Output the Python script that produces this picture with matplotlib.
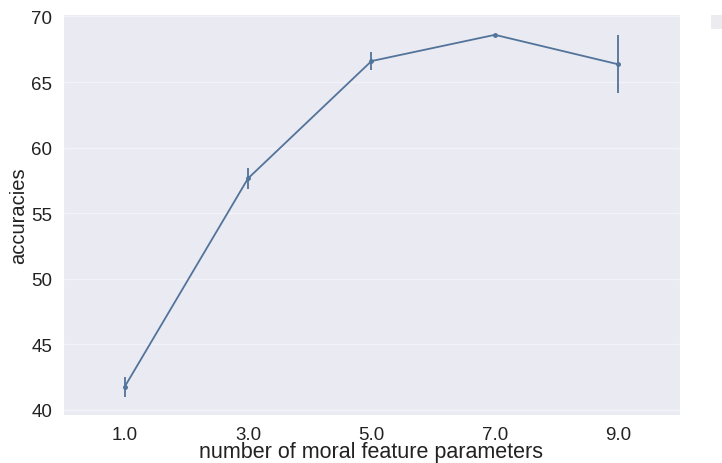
import matplotlib
matplotlib.use("Agg")
import matplotlib.pyplot as plt
import seaborn as sns

# данные
n_params = [1.0, 3.0, 5.0, 7.0, 9.0]
accuracies = [41.75, 57.65, 66.6, 68.6, 66.35]
errors = [0.75, 0.8, 0.7, 0.1, 2.2]
tick_labels = ["1.0", "3.0", "5.0", "7.0", "9.0"]

sns.set_style("darkgrid")
plt.rcParams['font.family'] = ['Liberation Sans', 'DejaVu Sans']

fig = plt.figure(figsize=(7.22, 4.64), dpi=100)
ax = fig.add_axes([0.087, 0.103, 0.855, 0.865])

ax.errorbar(n_params, accuracies, yerr=errors, color='#52739a',
            linewidth=1.3, elinewidth=1.3, marker='o', markersize=2.5)

ax.set_xlim(0, 10)
ax.set_ylim(39.6, 70.2)
ax.set_xticks(n_params)
ax.set_xticklabels(tick_labels)
ax.set_yticks([40, 45, 50, 55, 60, 65, 70])
ax.grid(axis='x', visible=False)
ax.grid(axis='y', color='#f4f4f8', linewidth=1.0)
ax.tick_params(labelsize=13.5, pad=4, labelcolor='#222222')

ax.set_xlabel("number of moral feature parameters", fontsize=15.5, labelpad=-1, color='#222222')
ax.set_ylabel("accuracies", fontsize=14.5, labelpad=2, color='#222222')

# обрезанный кусок легенды справа сверху
fig.patches.append(plt.Rectangle((0.985, 0.935), 0.02, 0.03, transform=fig.transFigure,
                                 facecolor='#ececf0', edgecolor='none'))

fig.savefig("out.png", dpi=100)
